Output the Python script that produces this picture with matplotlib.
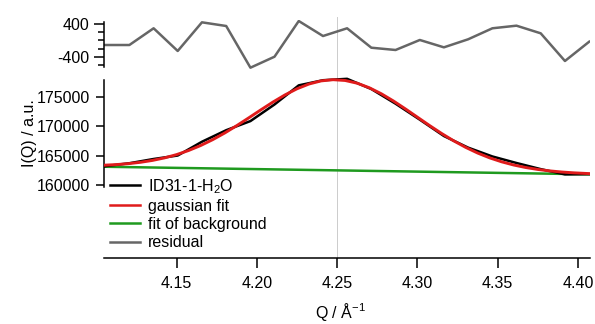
#!/usr/bin/env python3
"""
Peak fit plot - ID31-1-H2O with gaussian fit, background and residual
"""

import matplotlib
matplotlib.use('Agg')
import matplotlib.pyplot as plt
from matplotlib.ticker import FixedLocator, FormatStrFormatter
from matplotlib.lines import Line2D

plt.rcParams['font.family'] = ['Liberation Sans', 'DejaVu Sans']
plt.rcParams['mathtext.default'] = 'regular'
plt.rcParams['axes.unicode_minus'] = False

# measured data points
q_data = [4.1055, 4.1206, 4.1357, 4.1507, 4.1658, 4.1809, 4.1960, 4.2110,
          4.2261, 4.2412, 4.2562, 4.2713, 4.2864, 4.3015, 4.3165, 4.3316,
          4.3467, 4.3617, 4.3768, 4.3919, 4.4070]
i_data = [163200, 163700, 164420, 165010, 167350, 169310, 170860, 173680,
          176930, 177800, 178040, 176300, 173810, 171100, 168320, 166350,
          164850, 163740, 162700, 161800, 161850]

# residual (data - fit)
res_data = [-114, -114, 295, -260, 441, 351, -669, -400, 473, 106, 295,
            -180, -236, 9, -171, 26, 295, 359, 172, -505, -33]

# gaussian fit curve (incl. background)
q_fit = [4.105, 4.1125, 4.12, 4.1275, 4.135, 4.1425, 4.15, 4.1575, 4.165,
         4.1725, 4.18, 4.1875, 4.195, 4.2025, 4.21, 4.2175, 4.225, 4.2325,
         4.24, 4.2475, 4.255, 4.2625, 4.27, 4.2775, 4.285, 4.2925, 4.30,
         4.3075, 4.315, 4.3225, 4.33, 4.3375, 4.345, 4.3525, 4.36, 4.3675,
         4.375, 4.3825, 4.39, 4.3975, 4.407]
i_fit = [163366, 163469, 163629, 163859, 164180, 164609, 165165, 165863,
         166709, 167706, 168839, 170090, 171416, 172768, 174087, 175302,
         176349, 177161, 177687, 177891, 177758, 177294, 176527, 175504,
         174283, 172934, 171524, 170116, 168768, 167520, 166404, 165433,
         164613, 163939, 163396, 162972, 162643, 162394, 162206, 162066,
         161937]

# linear background
q_bg = [4.1055, 4.407]
i_bg = [163100, 161820]

x_ticks = [4.15, 4.20, 4.25, 4.30, 4.35, 4.40]
y_ticks = [160000, 165000, 170000, 175000]
res_ticks = [-400, 400]
res_minor = [-600, -200, 0, 200]
marker_q = 4.25

c_data = 'black'
c_fit = '#e01b1b'
c_bg = '#1f9a1f'
c_res = '#666666'

fig = plt.figure(figsize=(5.95, 3.24), dpi=100)
ax = fig.add_axes([0.174, 0.2037, 0.8176, 0.5586])
ax_res = fig.add_axes([0.174, 0.784, 0.8176, 0.1543], sharex=ax)

# main panel
ax.plot(q_data, i_data, color=c_data, linewidth=1.8, zorder=3)
ax.plot(q_fit, i_fit, color=c_fit, linewidth=2.1, zorder=4)
ax.plot(q_bg, i_bg, color=c_bg, linewidth=1.8, zorder=2)
ax.axvline(marker_q, ymin=0, ymax=1.33, color='#cccccc', linewidth=0.7,
           clip_on=False, zorder=1)

ax.set_xlim(4.1045, 4.4075)
ax.set_ylim(147600, 178346)
for s in ['top', 'right']:
    ax.spines[s].set_visible(False)
ax.spines['left'].set_bounds(159700, 177850)
for s in ['left', 'bottom']:
    ax.spines[s].set_linewidth(1.1)

ax.xaxis.set_major_locator(FixedLocator(x_ticks))
ax.xaxis.set_major_formatter(FormatStrFormatter('%.2f'))
ax.yaxis.set_major_locator(FixedLocator(y_ticks))
ax.tick_params(axis='x', direction='out', length=7, width=1.1, pad=6,
               labelsize=11.5)
ax.tick_params(axis='y', direction='out', length=6, width=1.1, pad=3.5,
               labelsize=11.5)

ax.set_xlabel('Q / Å$^{-1}$', fontsize=11.5)
ax.xaxis.set_label_coords(0.488, -0.24)
ax.set_ylabel('I(Q) / a.u.', fontsize=11.5)
ax.yaxis.set_label_coords(-0.136, 0.69)

# residual panel
ax_res.plot(q_data, res_data, color=c_res, linewidth=1.8)
ax_res.set_ylim(-725, 498)
for s in ['top', 'right', 'bottom']:
    ax_res.spines[s].set_visible(False)
ax_res.spines['left'].set_bounds(-640, 456)
ax_res.spines['left'].set_linewidth(1.1)
ax_res.yaxis.set_major_locator(FixedLocator(res_ticks))
ax_res.yaxis.set_minor_locator(FixedLocator(res_minor))
ax_res.tick_params(axis='y', which='major', direction='out', length=7,
                   width=1.1, pad=3.5, labelsize=11.5)
ax_res.tick_params(axis='y', which='minor', direction='out', length=4,
                   width=1.1)
ax_res.tick_params(axis='x', which='both', bottom=False, labelbottom=False)
ax_res.patch.set_visible(False)

# legend collects lines from both panels
handles = [Line2D([], [], color=c_data, linewidth=1.8),
           Line2D([], [], color=c_fit, linewidth=1.8),
           Line2D([], [], color=c_bg, linewidth=1.8),
           Line2D([], [], color=c_res, linewidth=1.8)]
labels = ['ID31-1-H$_2$O', 'gaussian fit', 'fit of background', 'residual']
fig.legend(handles, labels, loc='upper left',
           bbox_to_anchor=(110 / 595, 1 - 177 / 324), frameon=False,
           fontsize=11.5, borderpad=0, borderaxespad=0, handlelength=1.9,
           handletextpad=0.45, labelspacing=0.2)

plt.savefig('out.png', dpi=100)
plt.close()
